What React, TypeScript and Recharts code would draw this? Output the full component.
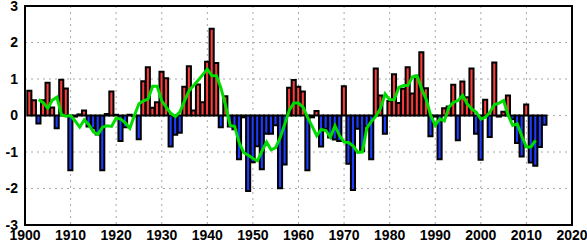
import {
  ComposedChart,
  Bar,
  Line,
  XAxis,
  YAxis,
  CartesianGrid,
  Cell,
  ReferenceArea,
} from "recharts";

// yearly index, 1901-2014
const years = [
  1901, 1902, 1903, 1904, 1905, 1906, 1907, 1908, 1909, 1910,
  1911, 1912, 1913, 1914, 1915, 1916, 1917, 1918, 1919, 1920,
  1921, 1922, 1923, 1924, 1925, 1926, 1927, 1928, 1929, 1930,
  1931, 1932, 1933, 1934, 1935, 1936, 1937, 1938, 1939, 1940,
  1941, 1942, 1943, 1944, 1945, 1946, 1947, 1948, 1949, 1950,
  1951, 1952, 1953, 1954, 1955, 1956, 1957, 1958, 1959, 1960,
  1961, 1962, 1963, 1964, 1965, 1966, 1967, 1968, 1969, 1970,
  1971, 1972, 1973, 1974, 1975, 1976, 1977, 1978, 1979, 1980,
  1981, 1982, 1983, 1984, 1985, 1986, 1987, 1988, 1989, 1990,
  1991, 1992, 1993, 1994, 1995, 1996, 1997, 1998, 1999, 2000,
  2001, 2002, 2003, 2004, 2005, 2006, 2007, 2008, 2009, 2010,
  2011, 2012, 2013, 2014,
];

const anomaly = [
  0.68, 0.42, -0.22, 0.42, 0.9, 0.22, -0.35, 0.98, 0.74, -1.5,
  -0.03, 0.03, 0.14, -0.3, -0.35, -0.52, -1.5, 0.04, 0.66, 0.02,
  -0.7, -0.32, 0.02, -0.02, -0.65, 0.94, 1.32, 0.21, 0.36, 1.2,
  1.02, -0.85, -0.53, -0.47, 0.79, 1.35, 0.14, 0.85, 0.36, 1.47,
  2.38, 1.44, -0.32, 0.53, -0.3, -0.38, -1.2, -0.05, -2.07, -1.28,
  -0.84, -1.47, -0.5, -0.5, -0.27, -1.99, -1.34, 0.76, 0.97, 0.79,
  0.66, -1.5, -0.05, 0.12, -0.85, -0.36, -0.6, -0.66, -0.7, 0.8,
  -1.32, -2.04, -0.36, -0.98, -0.3, -1.2, 1.29, 0.55, -0.5, 0.4,
  1.13, 0.34, 0.73, 1.32, 0.6, 1.09, 1.73, 0.75, -0.57, -0.03,
  -1.2, 0.2, 0.25, 0.84, -0.68, 0.93, 0.5, 1.29, -0.5, -1.21,
  0.43, -0.59, 1.45, -0.03, 0.1, 0.55, -0.1, -0.75, -1.12, 0.3,
  -1.29, -1.38, -0.86, -0.25,
];

// smoothed curve (green), only 1903-2012
const smoothed = [
  null, null, 0.44, 0.35, 0.2, 0.42, 0.5, 0.02, -0.02, 0.0,
  -0.15, -0.32, -0.12, -0.25, -0.45, -0.52, -0.32, -0.28, -0.3, -0.07,
  -0.1, -0.2, -0.35, 0.0, 0.32, 0.4, 0.45, 0.8, 0.8, 0.4,
  0.22, 0.06, -0.03, 0.1, 0.4, 0.68, 0.82, 0.97, 1.12, 1.27,
  1.09, 1.09, 0.75, 0.27, -0.27, -0.3, -0.75, -1.02, -1.09, -1.18,
  -1.24, -0.97, -0.73, -0.94, -0.88, -0.6, -0.23, 0.15, 0.34, 0.34,
  0.23, -0.05, -0.3, -0.55, -0.38, -0.41, -0.59, -0.28, -0.55, -0.73,
  -0.74, -0.84, -1.01, -1.0, -0.34, -0.16, -0.02, 0.2, 0.59, 0.43,
  0.43, 0.77, 0.82, 0.82, 1.06, 1.09, 0.73, 0.45, 0.0, -0.27,
  -0.09, -0.15, 0.23, 0.36, 0.41, 0.55, 0.32, 0.18, 0.09, -0.1,
  -0.05, 0.09, 0.3, 0.34, 0.41, 0.0, -0.27, -0.23, -0.57, -0.86,
  -0.86, -0.68, null, null,
];

const yearTicks = [1900, 1910, 1920, 1930, 1940, 1950, 1960, 1970, 1980, 1990, 2000, 2010, 2020];
const valueTicks = [-3, -2, -1, 0, 1, 2, 3];

const RED = "#fa3c3c";
const BLUE = "#1e3cff";
const GREEN = "#00dc00";

const data = years.map((year, i) => ({
  year,
  anomaly: anomaly[i],
  smoothed: smoothed[i],
}));

const tickStyle = {
  fontFamily: "'Liberation Sans', Arial, sans-serif",
  fontSize: 14,
  fontWeight: "bold",
  fill: "#000",
};

export default function App() {
  return (
    <div style={{ width: 587, height: 242 }}>
      <style>{`body { margin: 0; }`}</style>
      <ComposedChart
        width={587}
        height={242}
        data={data}
        margin={{ top: 6, right: 15, bottom: 0, left: 0 }}
        barCategoryGap={0}
      >
        <CartesianGrid stroke="#a8a8a8" strokeDasharray="2 4" />
        <XAxis
          dataKey="year"
          type="number"
          domain={[1900, 2020]}
          ticks={yearTicks}
          interval={0}
          height={17}
          tickLine={false}
          axisLine={false}
          tickSize={0}
          tickMargin={5}
          tick={tickStyle}
        />
        <YAxis
          domain={[-3, 3]}
          ticks={valueTicks}
          interval={0}
          width={25}
          tickLine={false}
          axisLine={false}
          tickSize={0}
          tickMargin={7}
          tick={tickStyle}
        />
        <Bar
          dataKey="anomaly"
          barSize={5}
          stroke="#000"
          strokeWidth={2}
          isAnimationActive={false}
        >
          {data.map((d) => (
            <Cell key={d.year} fill={d.anomaly >= 0 ? RED : BLUE} />
          ))}
        </Bar>
        <Line
          dataKey="smoothed"
          type="linear"
          stroke={GREEN}
          strokeWidth={3}
          dot={false}
          activeDot={false}
          isAnimationActive={false}
        />
        <ReferenceArea
          x1={1900}
          x2={2020}
          y1={-3}
          y2={3}
          fill="none"
          stroke="#000"
          strokeWidth={2}
        />
      </ComposedChart>
    </div>
  );
}
